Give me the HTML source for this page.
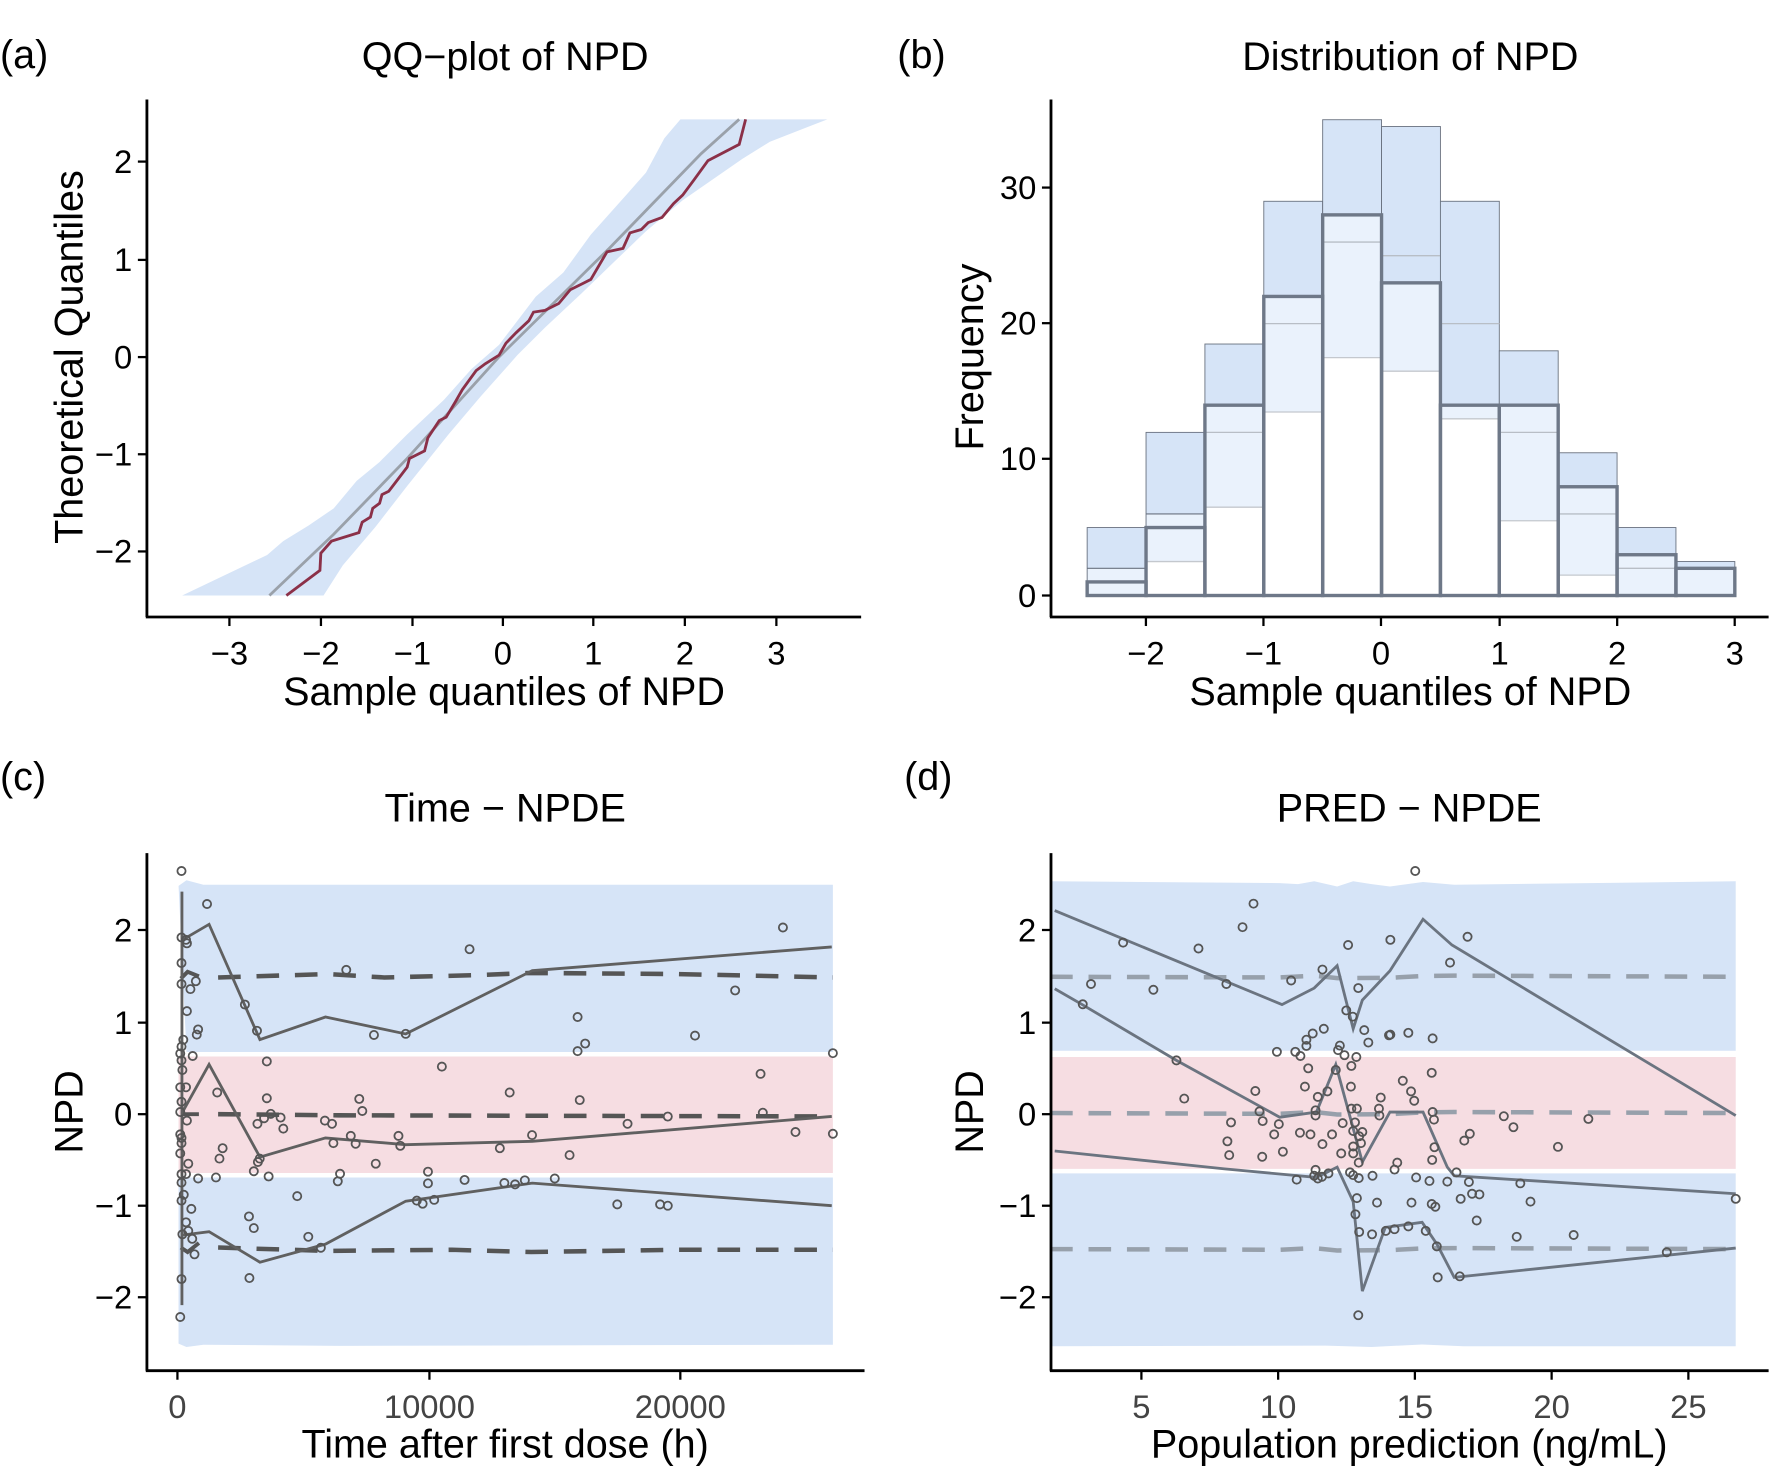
<!DOCTYPE html>
<html><head><meta charset="utf-8"><style>
html,body{margin:0;padding:0;background:#fff;}
svg{display:block;}
text{font-family:"Liberation Sans",sans-serif;fill:#000;}
</style></head><body>
<svg width="1772" height="1469" viewBox="0 0 1568 1300" preserveAspectRatio="none" xmlns="http://www.w3.org/2000/svg">
<g font-size="35">
<text x="0" y="60">(a)</text>
<text x="794" y="60">(b)</text>
<text x="0" y="699">(c)</text>
<text x="800" y="699">(d)</text>
</g>
<g font-size="35" text-anchor="middle">
<text x="447" y="62">QQ−plot of NPD</text>
<text x="1248" y="62">Distribution of NPD</text>
<text x="447" y="727">Time − NPDE</text>
<text x="1247" y="727">PRED − NPDE</text>
</g>

<!-- ===== Panel A ===== -->
<g id="pa"></g>
<g stroke="#000" stroke-width="2.5" fill="none">
<line x1="130" y1="88" x2="130" y2="546"/>
<line x1="129" y1="546" x2="762" y2="546"/>
</g>
<g stroke="#000" stroke-width="2">
<line x1="122" y1="143" x2="130" y2="143"/><line x1="122" y1="230" x2="130" y2="230"/><line x1="122" y1="316" x2="130" y2="316"/><line x1="122" y1="402" x2="130" y2="402"/><line x1="122" y1="488" x2="130" y2="488"/>
<line x1="203" y1="546" x2="203" y2="554"/><line x1="284" y1="546" x2="284" y2="554"/><line x1="365" y1="546" x2="365" y2="554"/><line x1="445" y1="546" x2="445" y2="554"/><line x1="525" y1="546" x2="525" y2="554"/><line x1="606" y1="546" x2="606" y2="554"/><line x1="687" y1="546" x2="687" y2="554"/>
</g>
<g font-size="29" text-anchor="end">
<text x="117" y="153">2</text><text x="117" y="240">1</text><text x="117" y="326">0</text><text x="117" y="412">−1</text><text x="117" y="498">−2</text>
</g>
<g font-size="29" text-anchor="middle">
<text x="203" y="588">−3</text><text x="284" y="588">−2</text><text x="365" y="588">−1</text><text x="445" y="588">0</text><text x="525" y="588">1</text><text x="606" y="588">2</text><text x="687" y="588">3</text>
</g>
<text x="446" y="624" font-size="35" text-anchor="middle">Sample quantiles of NPD</text>
<text transform="translate(73,316) rotate(-90)" font-size="35" text-anchor="middle">Theoretical Quantiles</text>

<!-- ===== Panel B ===== -->
<g id="hist"></g>
<g stroke="#000" stroke-width="2.5" fill="none">
<line x1="930" y1="88" x2="930" y2="546"/>
<line x1="929" y1="546" x2="1565" y2="546"/>
</g>
<g stroke="#000" stroke-width="2">
<line x1="922" y1="527" x2="930" y2="527"/><line x1="922" y1="406" x2="930" y2="406"/><line x1="922" y1="286" x2="930" y2="286"/><line x1="922" y1="166" x2="930" y2="166"/>
<line x1="1014" y1="546" x2="1014" y2="554"/><line x1="1118" y1="546" x2="1118" y2="554"/><line x1="1222" y1="546" x2="1222" y2="554"/><line x1="1327" y1="546" x2="1327" y2="554"/><line x1="1431" y1="546" x2="1431" y2="554"/><line x1="1535" y1="546" x2="1535" y2="554"/>
</g>
<g font-size="29" text-anchor="end">
<text x="917" y="537">0</text><text x="917" y="416">10</text><text x="917" y="296">20</text><text x="917" y="176">30</text>
</g>
<g font-size="29" text-anchor="middle">
<text x="1014" y="588">−2</text><text x="1118" y="588">−1</text><text x="1222" y="588">0</text><text x="1327" y="588">1</text><text x="1431" y="588">2</text><text x="1535" y="588">3</text>
</g>
<text x="1248" y="624" font-size="35" text-anchor="middle">Sample quantiles of NPD</text>
<text transform="translate(870,316) rotate(-90)" font-size="35" text-anchor="middle">Frequency</text>

<!-- ===== Panel C ===== -->
<path fill="#d6e4f7" d="M158,784 L165,779 L180,783 L300,783 L737,783 L737,931 L165,931 Z"/>
<path fill="#d6e4f7" d="M158,1042 L737,1042 L737,1190 L300,1191 L180,1190 L165,1192 L158,1189 Z"/>
<path fill="#f6dde2" d="M158,935 L737,935 L737,1038 L158,1038 Z"/>
<g stroke="#555" stroke-width="4" fill="none" stroke-dasharray="20,14">
<polyline points="193,865 290,862 340,865 420,863 470,861 600,862 737,865"/>
<polyline points="193,986 300,987 737,988"/>
<polyline points="193,1104 290,1107 400,1106 470,1108 600,1106 737,1106"/>
</g>
<g stroke="#555" stroke-width="3.5" fill="none">
<polyline points="160,866 166,860 176,864"/>
<polyline points="160,986 176,986"/>
<polyline points="160,1104 166,1108 176,1100"/>
</g>
<g stroke="#606060" stroke-width="2.5" fill="none">
<polyline points="161,789 161,1155"/>
<polyline points="161,832 185,818 230,920 288,900 359,915 471,859 736,838"/>
<polyline points="161,985 185,942 230,1024 288,1007 359,1013 471,1010 736,988"/>
<polyline points="161,1093 185,1090 230,1117 288,1101 359,1063 471,1047 736,1067"/>
</g>
<g id="ptsc" fill="none" stroke="#555" stroke-width="1.6"></g>
<g stroke="#000" stroke-width="2.5" fill="none">
<line x1="130" y1="755" x2="130" y2="1213"/>
<line x1="129" y1="1213" x2="765" y2="1213"/>
</g>
<g stroke="#000" stroke-width="2">
<line x1="122" y1="823" x2="130" y2="823"/><line x1="122" y1="905" x2="130" y2="905"/><line x1="122" y1="986" x2="130" y2="986"/><line x1="122" y1="1067" x2="130" y2="1067"/><line x1="122" y1="1148" x2="130" y2="1148"/>
<line x1="157" y1="1213" x2="157" y2="1221"/><line x1="380" y1="1213" x2="380" y2="1221"/><line x1="602" y1="1213" x2="602" y2="1221"/>
</g>
<g font-size="29" text-anchor="end">
<text x="117" y="833">2</text><text x="117" y="915">1</text><text x="117" y="996">0</text><text x="117" y="1077">−1</text><text x="117" y="1158">−2</text>
</g>
<g font-size="29" text-anchor="middle">
<text x="157" y="1255" style="fill:#444">0</text><text x="380" y="1255" style="fill:#444">10000</text><text x="602" y="1255" style="fill:#444">20000</text>
</g>
<text x="447" y="1290" font-size="35" text-anchor="middle">Time after first dose (h)</text>
<text transform="translate(73,984) rotate(-90)" font-size="35" text-anchor="middle">NPD</text>

<!-- ===== Panel D ===== -->
<g id="bandd"></g>
<g id="linesd" stroke="#6b7480" stroke-width="2.5" fill="none"></g>
<g id="ptsd" fill="none" stroke="#555" stroke-width="1.6"></g>
<g stroke="#000" stroke-width="2.5" fill="none">
<line x1="930" y1="755" x2="930" y2="1213"/>
<line x1="929" y1="1213" x2="1565" y2="1213"/>
</g>
<g stroke="#000" stroke-width="2">
<line x1="922" y1="823" x2="930" y2="823"/><line x1="922" y1="905" x2="930" y2="905"/><line x1="922" y1="986" x2="930" y2="986"/><line x1="922" y1="1067" x2="930" y2="1067"/><line x1="922" y1="1148" x2="930" y2="1148"/>
<line x1="1010" y1="1213" x2="1010" y2="1221"/><line x1="1131" y1="1213" x2="1131" y2="1221"/><line x1="1252" y1="1213" x2="1252" y2="1221"/><line x1="1373" y1="1213" x2="1373" y2="1221"/><line x1="1494" y1="1213" x2="1494" y2="1221"/>
</g>
<g font-size="29" text-anchor="end">
<text x="917" y="833">2</text><text x="917" y="915">1</text><text x="917" y="996">0</text><text x="917" y="1077">−1</text><text x="917" y="1158">−2</text>
</g>
<g font-size="29" text-anchor="middle">
<text x="1010" y="1255" style="fill:#444">5</text><text x="1131" y="1255" style="fill:#444">10</text><text x="1252" y="1255" style="fill:#444">15</text><text x="1373" y="1255" style="fill:#444">20</text><text x="1494" y="1255" style="fill:#444">25</text>
</g>
<text x="1247" y="1290" font-size="35" text-anchor="middle">Population prediction (ng/mL)</text>
<text transform="translate(870,984) rotate(-90)" font-size="35" text-anchor="middle">NPD</text>
</svg>
<script>
(function(){
var NS="http://www.w3.org/2000/svg";
function el(t,a,p){var e=document.createElementNS(NS,t);for(var k in a)e.setAttribute(k,a[k]);p.appendChild(e);return e;}
function conv(list,ox,oy,sx,sy){return list.map(function(p){return [((ox+p[0]/sx)/1.13).toFixed(1),((oy+p[1]/sy)/1.13).toFixed(1)];});}
function pts(a){return a.map(function(p){return p[0]+','+p[1];}).join(' ');}
// Panel A
var pa=document.getElementById('pa');
var SXa=1568/720,SYa=1568/540;
var band=[[70,1468],[255,1350],[290,1310],[345,1265],[400,1215],[450,1135],[500,1080],[560,1000],[640,900],[700,810],[760,740],[840,600],[900,530],[960,420],[1040,300],[1080,240],[1120,140],[1155,85],[1475,85],[1350,150],[1290,200],[1160,320],[1080,410],[1010,500],[940,590],[860,690],[800,770],[720,890],[650,1000],[560,1150],[490,1270],[420,1380],[378,1468]];
el('polygon',{points:pts(conv(band,150,90,SXa,SYa)),fill:'#d6e4f7'},pa);
var gray=[[260,1468],[400,1290],[560,1070],[760,775],[1000,460],[1200,185],[1283,85]];
el('polyline',{points:pts(conv(gray,150,90,SXa,SYa)),fill:'none',stroke:'#9aa1aa','stroke-width':2.5},pa);
var red=[[297,1468],[370,1395],[372,1345],[395,1310],[455,1285],[462,1255],[480,1240],[485,1215],[500,1200],[505,1175],[520,1165],[540,1130],[560,1095],[565,1070],[598,1048],[605,1010],[630,960],[645,950],[665,905],[680,870],[710,815],[730,795],[760,770],[775,735],[797,705],[825,670],[835,645],[860,640],[890,620],[915,580],[945,560],[960,550],[995,470],[1030,460],[1045,415],[1070,405],[1085,385],[1115,370],[1140,330],[1160,305],[1185,260],[1215,205],[1283,158],[1297,85]];
el('polyline',{points:pts(conv(red,150,90,SXa,SYa)),fill:'none',stroke:'#8b3048','stroke-width':2.5},pa);
// histogram
var h=document.getElementById('hist');
var y0=527,s=12.03,x0=962,w=52.1;
var bins=[[5,2,0,1,[]],[12,6,2.5,5,[]],[18.5,14,6.5,14,[12]],[29,22,13.5,22,[20]],[35,28,17.5,28,[26]],[34.5,23,16.5,23,[25]],[29,14,13,14,[20]],[18,14,5.5,14,[12]],[10.5,8,1.5,8,[6]],[5,3,0,3,[2]],[2.5,2,0,2,[]]];
bins.forEach(function(b,i){
 var x=x0+i*w;
 el('rect',{x:x,y:y0-b[0]*s,width:w,height:(b[0]-b[1])*s,fill:'#d6e4f7'},h);
 el('rect',{x:x,y:y0-b[1]*s,width:w,height:(b[1]-b[2])*s,fill:'#eaf2fc'},h);
 el('rect',{x:x,y:y0-b[0]*s,width:w,height:b[0]*s,fill:'none',stroke:'#6a7280','stroke-width':0.8},h);
 el('line',{x1:x,x2:x+w,y1:y0-b[1]*s,y2:y0-b[1]*s,stroke:'#6a7280','stroke-width':1},h);
 if(b[2]>0)el('line',{x1:x,x2:x+w,y1:y0-b[2]*s,y2:y0-b[2]*s,stroke:'#c4c8ce','stroke-width':1.2},h);
 b[4].forEach(function(v){el('line',{x1:x,x2:x+w,y1:y0-v*s,y2:y0-v*s,stroke:'#b8bec6','stroke-width':1.2},h);});
});
bins.forEach(function(b,i){
 var x=x0+i*w;
 el('rect',{x:x,y:y0-b[3]*s,width:w,height:b[3]*s,fill:'none',stroke:'#6e7888','stroke-width':3},h);
});
// Panel C points
var pc=[[93,90],[150,186],[93,283],[105,300],[103,290],[93,357],[93,418],[125,410],[113,433],[462,377],[738,317],[1440,254],[1333,437],[235,478],[105,497],[262,554],[130,550],[127,565],[524,566],[595,563],[980,514],[1243,568],[980,613],[997,591],[1552,619],[97,580],[93,600],[90,620],[118,627],[93,640],[95,668],[284,643],[676,658],[1390,679],[90,718],[103,718],[173,733],[828,733],[284,750],[491,752],[985,755],[93,760],[90,790],[293,795],[498,787],[1395,792],[278,808],[315,806],[105,815],[263,824],[414,815],[430,824],[1092,824],[1182,803],[321,838],[90,855],[93,865],[472,859],[579,859],[878,857],[1468,848],[1552,853],[93,880],[433,880],[483,882],[583,888],[806,895],[185,895],[90,910],[178,925],[268,925],[962,915],[108,940],[528,940],[264,935],[93,970],[103,970],[130,983],[170,980],[255,962],[288,977],[448,969],[443,991],[645,963],[645,997],[727,987],[816,996],[840,1000],[862,988],[929,983],[93,995],[98,1030],[93,1047],[352,1034],[620,1047],[633,1056],[659,1045],[115,1071],[1069,1058],[1165,1058],[1182,1062],[244,1093],[255,1127],[103,1110],[95,1145],[108,1135],[117,1158],[377,1152],[405,1184],[122,1203],[93,1275],[245,1272],[90,1385]];
var g=document.getElementById('ptsc');
conv(pc,140,840,1568/700,1568/540).forEach(function(p){el('circle',{cx:p[0],cy:p[1],r:3.6},g);});
// Panel D
var SXd=1568/720,SYd=1568/540;
function cd(l){return conv(l,1050,840,SXd,SYd);}
var bd=document.getElementById('bandd');
var top=[[0,120],[500,125],[540,128],[575,120],[625,135],[660,120],[700,128],[740,135],[812,122],[880,130],[1493,120],[1493,612],[0,612]];
el('polygon',{points:pts(cd(top)),fill:'#d6e4f7'},bd);
el('polygon',{points:pts(cd([[0,968],[1493,968],[1493,1470],[900,1470],[810,1465],[700,1472],[600,1468],[0,1470]])),fill:'#d6e4f7'},bd);
el('polygon',{points:pts(cd([[0,630],[1493,630],[1493,955],[0,955]])),fill:'#f6dde2'},bd);
[[397],[793],[1188]].forEach(function(v){
 var l=cd([[0,v[0]],[500,v[0]+2],[575,v[0]-3],[625,v[0]+4],[740,v[0]+3],[812,v[0]-2],[880,v[0]-3],[1493,v[0]]]);
 el('polyline',{points:pts(l),fill:'none',stroke:'#97a0ab','stroke-width':4,'stroke-dasharray':'20,14'},bd);
});
var ld=document.getElementById('linesd');
[[[10,205],[505,478],[575,430],[625,365],[660,548],[680,465],[740,380],[812,230],[875,305],[1493,800]],
 [[10,432],[70,478],[275,640],[500,805],[580,790],[622,652],[680,935],[740,790],[812,790],[865,950],[880,975],[1493,1027]],
 [[10,903],[380,955],[580,980],[625,950],[660,1050],[680,1310],[730,1125],[810,1110],[843,1175],[880,1270],[1493,1185]]].forEach(function(l){
 el('polyline',{points:pts(cd(l))},ld);});
var pd=[[795,90],[443,185],[419,253],[159,298],[323,315],[649,305],[741,290],[909,281],[871,356],[89,418],[225,435],[384,418],[525,408],[593,376],[671,430],[71,477],[645,495],[659,513],[596,548],[572,562],[558,580],[684,552],[693,588],[741,565],[738,567],[780,560],[833,576],[558,598],[494,615],[534,615],[545,627],[631,597],[627,610],[641,625],[667,630],[656,656],[275,640],[562,663],[622,668],[831,676],[768,699],[555,716],[655,716],[447,729],[604,730],[583,746],[786,730],[793,757],[720,748],[292,751],[456,788],[578,785],[656,780],[668,780],[716,780],[717,800],[833,790],[463,816],[394,820],[498,825],[578,800],[637,822],[664,820],[836,812],[988,802],[1009,834],[1172,810],[488,855],[544,850],[567,855],[614,855],[680,848],[673,860],[660,845],[914,853],[902,873],[386,875],[593,883],[677,880],[660,890],[837,892],[1106,891],[390,915],[462,920],[507,905],[634,910],[660,910],[832,929],[672,937],[756,937],[750,957],[578,958],[575,975],[583,983],[592,978],[606,968],[537,986],[653,965],[660,973],[672,982],[702,975],[797,980],[826,990],[865,992],[885,965],[912,993],[1024,997],[668,1040],[712,1053],[787,1053],[831,1057],[839,1065],[894,1042],[919,1027],[935,1029],[1046,1050],[1493,1042],[665,1087],[929,1105],[673,1138],[701,1145],[731,1135],[750,1130],[780,1122],[818,1135],[842,1180],[1016,1152],[1140,1147],[1343,1197],[844,1270],[892,1267],[671,1380]];
g=document.getElementById('ptsd');
cd(pd).forEach(function(p){el('circle',{cx:p[0],cy:p[1],r:3.6},g);});
})();
</script>
</body></html>
